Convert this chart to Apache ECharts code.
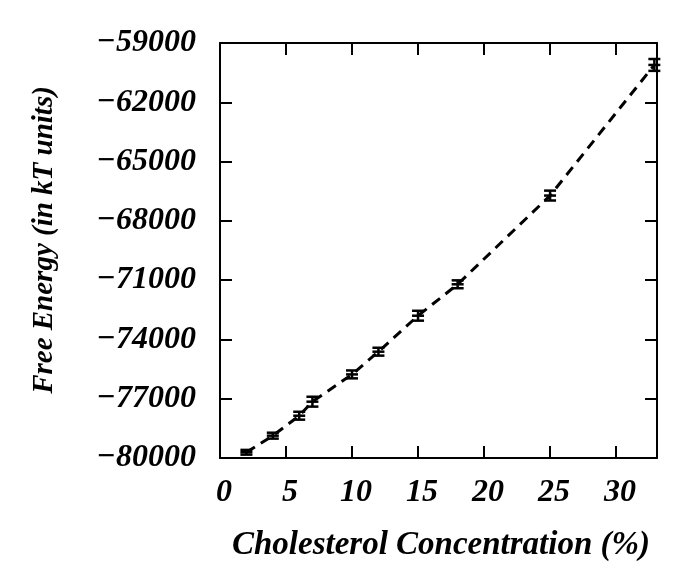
<!DOCTYPE html>
<html>
<head>
<meta charset="utf-8">
<script src="https://cdn.jsdelivr.net/npm/echarts@6/dist/echarts.min.js"></script>
<style>html,body{margin:0;padding:0;background:#fff;}#c{width:687px;height:581px;}</style>
</head>
<body>
<div id="c"></div>
<script>
var concentration = [2, 4, 6, 7, 10, 12, 15, 18, 25, 32.9];
var freeEnergy = [-79710, -78870, -77860, -77150, -75770, -74620, -72800, -71210, -66720, -60110];
var errors = [120, 150, 200, 250, 200, 200, 250, 200, 250, 300];
var yTicks = [-80000, -77000, -74000, -71000, -68000, -65000, -62000, -59000];
var xTicks = [0, 5, 10, 15, 20, 25, 30];
var xTitle = 'Cholesterol Concentration (%)';
var yTitle = 'Free Energy (in kT units)';

var font = '"Liberation Serif", "DejaVu Serif", serif';
var pts = concentration.map(function (x, i) { return [x, freeEnergy[i], errors[i]]; });

function fmtY(v) { return String(v).replace('-', '\u2212'); }

var axisCommon = {
  axisLine: { show: true, onZero: false, lineStyle: { color: '#000', width: 2 } },
  axisTick: { show: true, inside: true, length: 12, lineStyle: { color: '#000', width: 2 } },
  splitLine: { show: false }
};

var chart = echarts.init(document.getElementById('c'), null, { renderer: 'canvas' });
chart.setOption({
  backgroundColor: '#fff',
  animation: false,
  grid: { left: 220, right: 30, top: 43, bottom: 123, containLabel: false },
  graphic: [
    { type: 'text', x: 441, y: 545,
      style: { text: xTitle, font: 'italic bold 33px ' + font, fill: '#000', align: 'center', verticalAlign: 'middle' } },
    { type: 'text', x: 45, y: 240, rotation: Math.PI / 2,
      style: { text: yTitle, font: 'italic bold 29px ' + font, fill: '#000', align: 'center', verticalAlign: 'middle' } }
  ],
  xAxis: [
    Object.assign({
      type: 'value', min: 0, max: 33.1, interval: 5, position: 'bottom',
      axisLabel: { margin: 19, fontFamily: font, fontWeight: 'bold', fontStyle: 'italic', fontSize: 32, color: '#000', showMaxLabel: false,
        padding: [0, 0, 0, 8],
        formatter: function (v) { return xTicks.indexOf(v) >= 0 ? String(v) : ''; } }
    }, axisCommon),
    Object.assign({
      type: 'value', min: 0, max: 33.1, interval: 5, position: 'top',
      axisLabel: { show: false }
    }, axisCommon)
  ],
  yAxis: [
    Object.assign({
      type: 'value', min: -80000, max: -59000, interval: 3000, position: 'left',
      axisLabel: { margin: 24, fontFamily: font, fontWeight: 'bold', fontStyle: 'italic', fontSize: 32, color: '#000',
        formatter: function (v) { return yTicks.indexOf(v) >= 0 ? fmtY(v) : ''; } }
    }, axisCommon),
    Object.assign({
      type: 'value', min: -80000, max: -59000, interval: 3000, position: 'right',
      axisLabel: { show: false }
    }, axisCommon)
  ],
  series: [
    {
      type: 'line', xAxisIndex: 0, yAxisIndex: 0,
      data: pts.map(function (p) { return [p[0], p[1]]; }),
      showSymbol: false, symbol: 'none',
      lineStyle: { color: '#000', width: 3, type: [10, 7] },
      z: 2
    },
    {
      type: 'custom', xAxisIndex: 0, yAxisIndex: 0,
      data: pts,
      renderItem: function (params, api) {
        var x = api.value(0), y = api.value(1), e = api.value(2);
        var c = api.coord([x, y]);
        var hi = api.coord([x, y + e]);
        var lo = api.coord([x, y - e]);
        var w = 6;
        var st = { stroke: '#000', lineWidth: 2.5 };
        return {
          type: 'group',
          children: [
            { type: 'line', shape: { x1: hi[0], y1: hi[1], x2: lo[0], y2: lo[1] }, style: st },
            { type: 'line', shape: { x1: hi[0] - w, y1: hi[1], x2: hi[0] + w, y2: hi[1] }, style: st },
            { type: 'line', shape: { x1: lo[0] - w, y1: lo[1], x2: lo[0] + w, y2: lo[1] }, style: st },
            { type: 'line', shape: { x1: c[0] - w, y1: c[1], x2: c[0] + w, y2: c[1] }, style: st }
          ]
        };
      },
      z: 3
    }
  ]
});
</script>
</body>
</html>
